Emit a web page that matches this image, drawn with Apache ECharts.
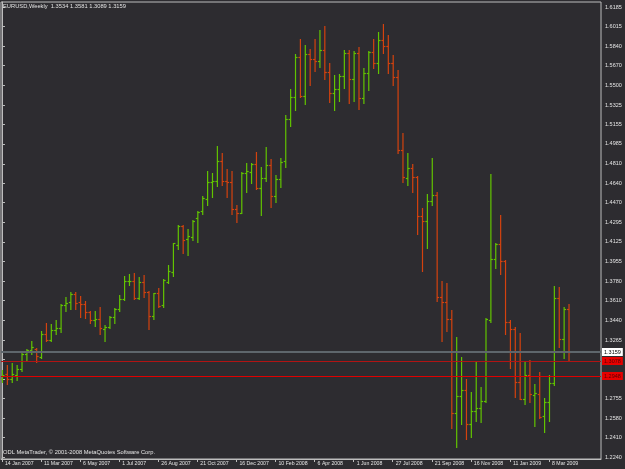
<!DOCTYPE html>
<html>
<head>
<meta charset="utf-8">
<title>EURUSD,Weekly</title>
<script src="https://cdn.jsdelivr.net/npm/echarts@6.0.0/dist/echarts.min.js"></script>
<style>
	html, body { margin: 0; padding: 0; background: #2d2c30; }
	#chart { width: 625px; height: 469px; }
</style>
</head>
<body>
<div id="chart"></div>
<script>
	var symbolName = 'EURUSD,Weekly'
	var copyright = 'ODL MetaTrader, \u00a9 2001-2008 MetaQuotes Software Corp.'

	// weekly bars, 14 Jan 2007 ... 5 Apr 2009
	var opens = [1.2924, 1.2965, 1.2924, 1.2959, 1.3015, 1.3143, 1.3178, 1.3187, 1.3117, 1.3318,
		1.3266, 1.3353, 1.3371, 1.3573, 1.3599, 1.3665, 1.3600, 1.3581, 1.3511, 1.3441,
		1.3450, 1.3362, 1.3380, 1.3467, 1.3537, 1.3625, 1.3779, 1.3783, 1.3634, 1.3774,
		1.3687, 1.3476, 1.3678, 1.3570, 1.3777, 1.3859, 1.4096, 1.4265, 1.4149, 1.4166,
		1.4333, 1.4399, 1.4499, 1.4653, 1.4662, 1.4832, 1.4657, 1.4651, 1.4414, 1.4382,
		1.4732, 1.4741, 1.4806, 1.4596, 1.4686, 1.4797, 1.4528, 1.4675, 1.4832, 1.5201,
		1.5393, 1.5749, 1.5405, 1.5773, 1.5727, 1.5709, 1.5808, 1.5615, 1.5434, 1.5464,
		1.5580, 1.5779, 1.5551, 1.5779, 1.5385, 1.5609, 1.5788, 1.5691, 1.5896, 1.5843,
		1.5691, 1.5569, 1.4931, 1.4683, 1.4776, 1.4697, 1.4353, 1.4312, 1.4487, 1.4534,
		1.3645, 1.3601, 1.3447, 1.2623, 1.2775, 1.2827, 1.2527, 1.2646, 1.2667, 1.2734,
		1.3441, 1.3973, 1.4106, 1.3958, 1.3421, 1.3362, 1.2900, 1.2749, 1.2959, 1.2784,
		1.2790, 1.2597, 1.2720, 1.2886, 1.3631, 1.3275, 1.3534]
	var highs = [1.3003, 1.3047, 1.3064, 1.3047, 1.3169, 1.3187, 1.3257, 1.3196, 1.3345, 1.3415,
		1.3406, 1.3441, 1.3581, 1.3643, 1.3687, 1.3687, 1.3651, 1.3608, 1.3520, 1.3520,
		1.3555, 1.3397, 1.3476, 1.3546, 1.3660, 1.3827, 1.3844, 1.3853, 1.3818, 1.3836,
		1.3698, 1.3680, 1.3719, 1.3798, 1.3923, 1.4119, 1.4274, 1.4274, 1.4236, 1.4318,
		1.4399, 1.4528, 1.4750, 1.4727, 1.4966, 1.4902, 1.4765, 1.4747, 1.4449, 1.4736,
		1.4820, 1.4815, 1.4916, 1.4780, 1.4960, 1.4850, 1.4712, 1.4859, 1.5238, 1.5464,
		1.5773, 1.5902, 1.5854, 1.5814, 1.5907, 1.5983, 1.6018, 1.5691, 1.5589, 1.5595,
		1.5808, 1.5808, 1.5797, 1.5837, 1.5648, 1.5797, 1.5907, 1.5963, 1.6036, 1.5940,
		1.5764, 1.5633, 1.5078, 1.4908, 1.4806, 1.4703, 1.4420, 1.4546, 1.4864, 1.4566,
		1.3786, 1.3763, 1.3529, 1.3295, 1.3119, 1.2921, 1.2812, 1.3075, 1.2851, 1.3456,
		1.4721, 1.4120, 1.4362, 1.3964, 1.3441, 1.3377, 1.3327, 1.3075, 1.3090, 1.2880,
		1.2988, 1.2755, 1.2959, 1.3739, 1.3733, 1.3552, 1.3581]
	var lows = [1.2898, 1.2880, 1.2898, 1.2915, 1.2994, 1.3082, 1.3143, 1.3073, 1.3108, 1.3257,
		1.3257, 1.3318, 1.3336, 1.3520, 1.3537, 1.3537, 1.3467, 1.3459, 1.3415, 1.3388,
		1.3318, 1.3257, 1.3371, 1.3415, 1.3520, 1.3616, 1.3748, 1.3625, 1.3625, 1.3643,
		1.3360, 1.3447, 1.3558, 1.3552, 1.3768, 1.3829, 1.4061, 1.4026, 1.4011, 1.4142,
		1.4122, 1.4370, 1.4449, 1.4522, 1.4616, 1.4625, 1.4522, 1.4370, 1.4303, 1.4376,
		1.4566, 1.4639, 1.4587, 1.4362, 1.4662, 1.4434, 1.4478, 1.4610, 1.4780, 1.5142,
		1.5282, 1.5393, 1.5335, 1.5501, 1.5624, 1.5662, 1.5551, 1.5355, 1.5282, 1.5364,
		1.5478, 1.5341, 1.5364, 1.5293, 1.5346, 1.5457, 1.5648, 1.5609, 1.5779, 1.5609,
		1.5501, 1.4908, 1.4653, 1.4625, 1.4566, 1.4195, 1.3873, 1.4070, 1.4449, 1.3610,
		1.3257, 1.3345, 1.2497, 1.2330, 1.2529, 1.2395, 1.2418, 1.2558, 1.2549, 1.2725,
		1.3426, 1.3901, 1.3842, 1.3316, 1.3023, 1.2769, 1.2746, 1.2707, 1.2725, 1.2514,
		1.2585, 1.2462, 1.2556, 1.2871, 1.3207, 1.3111, 1.3089]
	var closes = [1.2959, 1.2924, 1.2968, 1.3011, 1.3143, 1.3178, 1.3204, 1.3125, 1.3318, 1.3266,
		1.3353, 1.3371, 1.3573, 1.3590, 1.3669, 1.3590, 1.3581, 1.3511, 1.3441, 1.3450,
		1.3371, 1.3380, 1.3467, 1.3537, 1.3625, 1.3779, 1.3783, 1.3638, 1.3774, 1.3689,
		1.3476, 1.3675, 1.3564, 1.3792, 1.3873, 1.4113, 1.4265, 1.4142, 1.4177, 1.4312,
		1.4391, 1.4508, 1.4653, 1.4662, 1.4832, 1.4657, 1.4651, 1.4414, 1.4376, 1.4732,
		1.4745, 1.4806, 1.4596, 1.4686, 1.4797, 1.4528, 1.4675, 1.4829, 1.5201, 1.5393,
		1.5749, 1.5405, 1.5773, 1.5727, 1.5709, 1.5808, 1.5615, 1.5434, 1.5464, 1.5580,
		1.5779, 1.5551, 1.5779, 1.5385, 1.5609, 1.5788, 1.5691, 1.5896, 1.5843, 1.5691,
		1.5567, 1.4931, 1.4697, 1.4776, 1.4697, 1.4353, 1.4312, 1.4487, 1.4534, 1.3645,
		1.3601, 1.3447, 1.2623, 1.2775, 1.2827, 1.2527, 1.2646, 1.2667, 1.2734, 1.3447,
		1.3973, 1.4106, 1.3958, 1.3421, 1.3362, 1.2900, 1.2749, 1.2959, 1.2790, 1.2797,
		1.2591, 1.2720, 1.2886, 1.3631, 1.3275, 1.3537, 1.3159]

	var xTickIndex = [0, 8, 16, 24, 32, 40, 48, 56, 64, 72, 80, 88, 96, 104, 112]
	var xTickLabels = ['14 Jan 2007', '11 Mar 2007', '6 May 2007', '1 Jul 2007', '26 Aug 2007',
		'21 Oct 2007', '16 Dec 2007', '10 Feb 2008', '6 Apr 2008', '1 Jun 2008', '27 Jul 2008',
		'21 Sep 2008', '16 Nov 2008', '11 Jan 2009', '8 Mar 2009']
	var yTicks = [1.2240, 1.2410, 1.2580, 1.2755, 1.2925, 1.3095, 1.3265, 1.3440, 1.3610, 1.3780,
		1.3955, 1.4125, 1.4295, 1.4470, 1.4640, 1.4810, 1.4985, 1.5155, 1.5325, 1.5500,
		1.5670, 1.5840, 1.6015, 1.6185]
	var levelHigh = 1.3078
	var levelLow = 1.2948

	var upColor = '#62c400'
	var downColor = '#d4420e'
	var textColor = '#e4e4e4'
	var fontName = 'Liberation Sans'

	var n = closes.length
	var bars = []
	for (var i = 0; i < n; i++) {
		bars.push([i, opens[i], highs[i], lows[i], closes[i]])
	}
	var bid = closes[n - 1]
	var header = symbolName + '  ' + [opens[n - 1], highs[n - 1], lows[n - 1], closes[n - 1]]
		.map(function (v) { return v.toFixed(4) }).join(' ')

	// bid line first, then the two red levels
	var levels = [[0, bid], [0, levelHigh], [0, levelLow]]
	var levelLook = [
		{ line: '#5e666c', width: 2, box: '#ffffff', text: '#000000' },
		{ line: '#b21414', width: 1, box: '#e60000', text: '#5a0000' },
		{ line: '#e00000', width: 1, box: '#e60000', text: '#5a0000' }
	]

	// OHLC bar: high-low stem, open tick left, close tick right
	function renderBar(params, api) {
		var idx = api.value(0)
		var o = api.coord([idx, api.value(1)])
		var h = api.coord([idx, api.value(2)])
		var l = api.coord([idx, api.value(3)])
		var c = api.coord([idx, api.value(4)])
		var color = api.value(4) >= api.value(1) ? upColor : downColor
		var x = h[0] + 0.5
		var oy = Math.round(o[1]) + 0.5
		var cy = Math.round(c[1]) + 0.5
		var st = { stroke: color, lineWidth: 1.2 }
		return {
			type: 'group',
			children: [
				{ type: 'line', shape: { x1: x, y1: Math.round(h[1]), x2: x, y2: Math.round(l[1]) + 1 }, style: st },
				{ type: 'line', shape: { x1: x - 2, y1: oy, x2: x, y2: oy }, style: st },
				{ type: 'line', shape: { x1: x, y1: cy, x2: x + 2, y2: cy }, style: st }
			]
		}
	}

	// horizontal price line with its box on the price scale
	function renderLevel(params, api) {
		var v = api.value(1)
		var y = api.coord([0, v])[1]
		var cs = params.coordSys
		var look = levelLook[params.dataIndex]
		var yy = Math.round(y) + (look.width % 2 ? 0.5 : 0)
		return {
			type: 'group',
			children: [
				{
					type: 'line',
					shape: { x1: cs.x, y1: yy, x2: cs.x + cs.width, y2: yy },
					style: { stroke: look.line, lineWidth: look.width }
				},
				{
					type: 'text',
					x: cs.x + cs.width + 1,
					y: Math.round(y),
					style: {
						text: v.toFixed(4),
						fill: look.text,
						backgroundColor: look.box,
						padding: [1, 2, 1, 2],
						font: '5.5px "Liberation Sans"',
						align: 'left',
						verticalAlign: 'middle'
					}
				}
			]
		}
	}

	var myChart = echarts.init(document.getElementById('chart'))
	var option = {
		animation: false,
		backgroundColor: '#2d2c30',
		title: [{
			text: header,
			left: 3,
			top: 3,
			padding: 0,
			textStyle: { color: textColor, fontSize: 5.75, fontWeight: 'normal', fontFamily: fontName }
		}, {
			text: copyright,
			left: 3,
			top: 449,
			padding: 0,
			textStyle: { color: textColor, fontSize: 5.75, fontWeight: 'normal', fontFamily: fontName }
		}],
		grid: {
			left: 1,
			right: 24,
			top: 2,
			bottom: 10,
			show: true,
			borderColor: '#bdbdbd',
			borderWidth: 1
		},
		xAxis: {
			type: 'value',
			min: -0.2,
			max: 122.65,
			axisLine: { show: true, lineStyle: { color: '#bdbdbd' } },
			axisTick: { show: true, customValues: xTickIndex, length: 3, lineStyle: { color: '#bdbdbd' } },
			splitLine: { show: false },
			axisLabel: {
				customValues: xTickIndex,
				formatter: function (v) {
					var k = xTickIndex.indexOf(Math.round(v))
					return k < 0 ? '' : xTickLabels[k]
				},
				align: 'left',
				padding: [0, 0, 0, 3],
				margin: 2,
				color: textColor,
				fontSize: 5.2,
				fontFamily: fontName
			}
		},
		yAxis: {
			type: 'value',
			position: 'right',
			min: 1.22225,
			max: 1.62288,
			axisLine: { show: true, lineStyle: { color: '#bdbdbd' } },
			axisTick: { show: true, customValues: yTicks, length: 3, lineStyle: { color: '#bdbdbd' } },
			splitLine: { show: false },
			axisLabel: {
				customValues: yTicks,
				formatter: function (v) { return v.toFixed(4) },
				margin: 4,
				color: textColor,
				fontSize: 5.5,
				fontFamily: fontName
			}
		},
		series: [{
			type: 'custom',
			renderItem: renderBar,
			data: bars,
			clip: true
		}, {
			type: 'custom',
			renderItem: renderLevel,
			data: levels,
			encode: { x: 0, y: 1 },
			clip: false,
			silent: true,
			z: 5
		}]
	}
	myChart.setOption(option, true)
</script>
</body>
</html>
